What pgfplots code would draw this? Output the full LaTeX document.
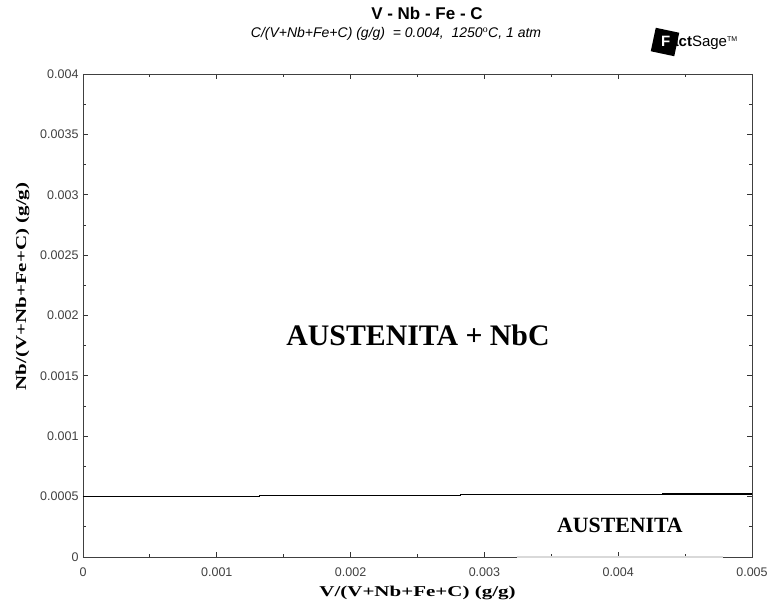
\documentclass[border=0pt]{standalone}
\usepackage{fontspec}
\setmainfont{Liberation Serif}
\newfontfamily\arial{Liberation Sans}
\usepackage{pgfplots}
\pgfplotsset{compat=1.18}
\begin{document}
\begin{tikzpicture}[x=1bp,y=1bp]
\useasboundingbox (-83bp,-49bp) rectangle ++(768bp,606bp);
\begin{axis}[
  at={(0,0)}, anchor=south west,
  scale only axis,
  width=669bp, height=483bp,
  xmin=0, xmax=0.005, ymin=0, ymax=0.004,
  xtick={0,0.001,0.002,0.003,0.004,0.005},
  xticklabels={0,0.001,0.002,0.003,0.004,0.005},
  ytick={0,0.0005,0.001,0.0015,0.002,0.0025,0.003,0.0035,0.004},
  yticklabels={0,0.0005,0.001,0.0015,0.002,0.0025,0.003,0.0035,0.004},
  minor x tick num=1, minor y tick num=1,
  tick align=inside,
  major tick length=5bp, minor tick length=3bp,
  tick style={black!80, line width=0.8bp},
  axis line style={black!75, line width=0.9bp},
  tick label style={font=\arial\fontsize{12.5bp}{14bp}\selectfont, text=black!75},
  xticklabel style={yshift=-7bp},
  yticklabel style={xshift=-1bp},
  xlabel={\scalebox{1.4}[1]{\bfseries\fontsize{15bp}{17bp}\selectfont V/(V+Nb+Fe+C) (g/g)}},
  ylabel={\scalebox{1.4}[1]{\bfseries\fontsize{15bp}{17bp}\selectfont Nb/(V+Nb+Fe+C) (g/g)}},
  xlabel style={yshift=-3bp},
  ylabel style={at={(ticklabel cs:0.56)}, yshift=4bp},
  scaled ticks=false,
  clip=false,
]
\addplot[black, line width=1.1bp] coordinates {
(0,0.0005) (0.00132,0.0005) (0.00132,0.000508) (0.00282,0.000508)
(0.00282,0.000515) (0.00433,0.000515) (0.00433,0.000522) (0.005,0.000522)};
\addplot[draw=black!15, line width=1.4bp] coordinates {(0.00324,0) (0.00478,0)};
\node[font=\bfseries\fontsize{29.8bp}{32bp}\selectfont] at (axis cs:0.002504,0.00184) {AUSTENITA + NbC};
\node[font=\bfseries\fontsize{21.8bp}{24bp}\selectfont] at (axis cs:0.004013,0.00026) {AUSTENITA};
\end{axis}
% titles
\node[font=\arial\bfseries\fontsize{17bp}{19bp}\selectfont] at (344bp,544bp) {V - Nb - Fe - C};
\node[font=\arial\itshape\fontsize{14bp}{16bp}\selectfont] at (313bp,523bp) {C/(V+Nb+Fe+C) (g/g)\ \ = 0.004,\ \ 1250$^{\mathrm{o}}$C, 1 atm};
% logo
\fill[black, rotate around={-12:(582bp,515bp)}] (570bp,503bp) rectangle (594bp,527bp);
\node[font=\arial\fontsize{15bp}{17bp}\selectfont, anchor=west, inner sep=0pt] at (578bp,514bp) {{\bfseries\textcolor{white}{F}act}Sage\textsuperscript{\fontsize{7bp}{8bp}\selectfont TM}};
\end{tikzpicture}
\end{document}
